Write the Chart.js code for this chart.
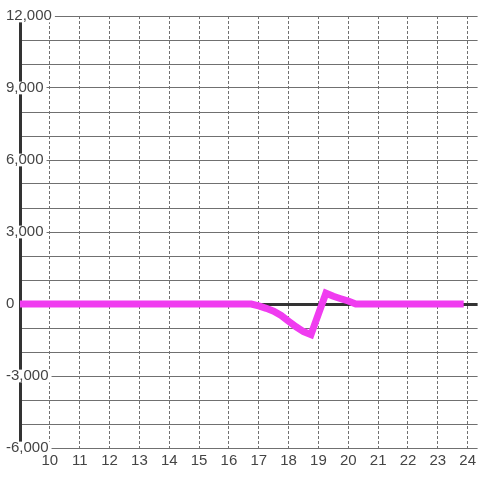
<!DOCTYPE html>
<html>
<head>
<meta charset="utf-8">
<script src="https://cdn.jsdelivr.net/npm/chart.js@4/dist/chart.umd.min.js"></script>
<style>
  html, body { margin: 0; padding: 0; background: #ffffff; }
  #wrap { width: 480px; height: 480px; }
</style>
</head>
<body>
<div id="wrap"><canvas id="c" width="480" height="480"></canvas></div>
<script>
// Data
const hours  = [9, 16.75, 17, 17.25, 17.5, 17.75, 18, 18.25, 18.5, 18.75, 19.25, 19.5, 19.75, 20, 20.25, 23.75];
const values = [0, 0, -80, -180, -300, -480, -720, -950, -1150, -1280, 450, 320, 220, 125, 0, 0];
const xTickLabels = [10, 11, 12, 13, 14, 15, 16, 17, 18, 19, 20, 21, 22, 23, 24];
const yTickLabels = [-6000, -3000, 0, 3000, 6000, 9000, 12000];

const points = hours.map((h, i) => ({ x: h, y: values[i] }));

new Chart(document.getElementById('c'), {
  type: 'line',
  data: {
    datasets: [{
      data: points,
      borderColor: '#f03cf0',
      borderWidth: 7,
      borderCapStyle: 'square',
      borderJoinStyle: 'miter',
      pointRadius: 0,
      tension: 0,
      fill: false
    }]
  },
  options: {
    responsive: false,
    animation: false,
    events: [],
    layout: { padding: { left: 6, top: 16, right: 0, bottom: 0 } },
    plugins: { legend: { display: false }, tooltip: { enabled: false } },
    scales: {
      x: {
        type: 'linear',
        position: 'bottom',
        min: 9,
        max: 9 + 460 / 30,
        afterFit: s => { s.height = 32; },
        ticks: {
          stepSize: 1,
          includeBounds: false,
          autoSkip: false,
          maxRotation: 0,
          padding: 4,
          color: '#444444',
          font: { family: 'Liberation Sans, Arial, sans-serif', size: 15 },
          callback: v => xTickLabels.includes(v) ? String(v) : ''
        },
        grid: { color: '#707070', lineWidth: 1, drawTicks: false },
        border: { display: false, dash: [3, 2] }
      },
      y: {
        min: -6000,
        max: 12000,
        afterFit: s => { s.width = 14; },
        ticks: {
          stepSize: 1000,
          autoSkip: false,
          mirror: true,
          crossAlign: 'near',
          padding: -14,
          color: '#444444',
          font: { family: 'Liberation Sans, Arial, sans-serif', size: 15, lineHeight: 0.85 },
          callback: v => yTickLabels.includes(v) ? v.toLocaleString('en-US') : '',
          showLabelBackdrop: ctx => yTickLabels.includes(ctx.tick.value),
          backdropColor: '#ffffff',
          backdropPadding: { left: 2, right: 3, top: 0, bottom: 0 }
        },
        grid: {
          drawTicks: false,
          color: ctx => ctx.tick && ctx.tick.value === 0 ? '#333333' : '#707070',
          lineWidth: ctx => ctx.tick && ctx.tick.value === 0 ? 3 : 1
        },
        border: { display: true, color: '#333333', width: 3 }
      }
    }
  }
});
</script>
</body>
</html>
